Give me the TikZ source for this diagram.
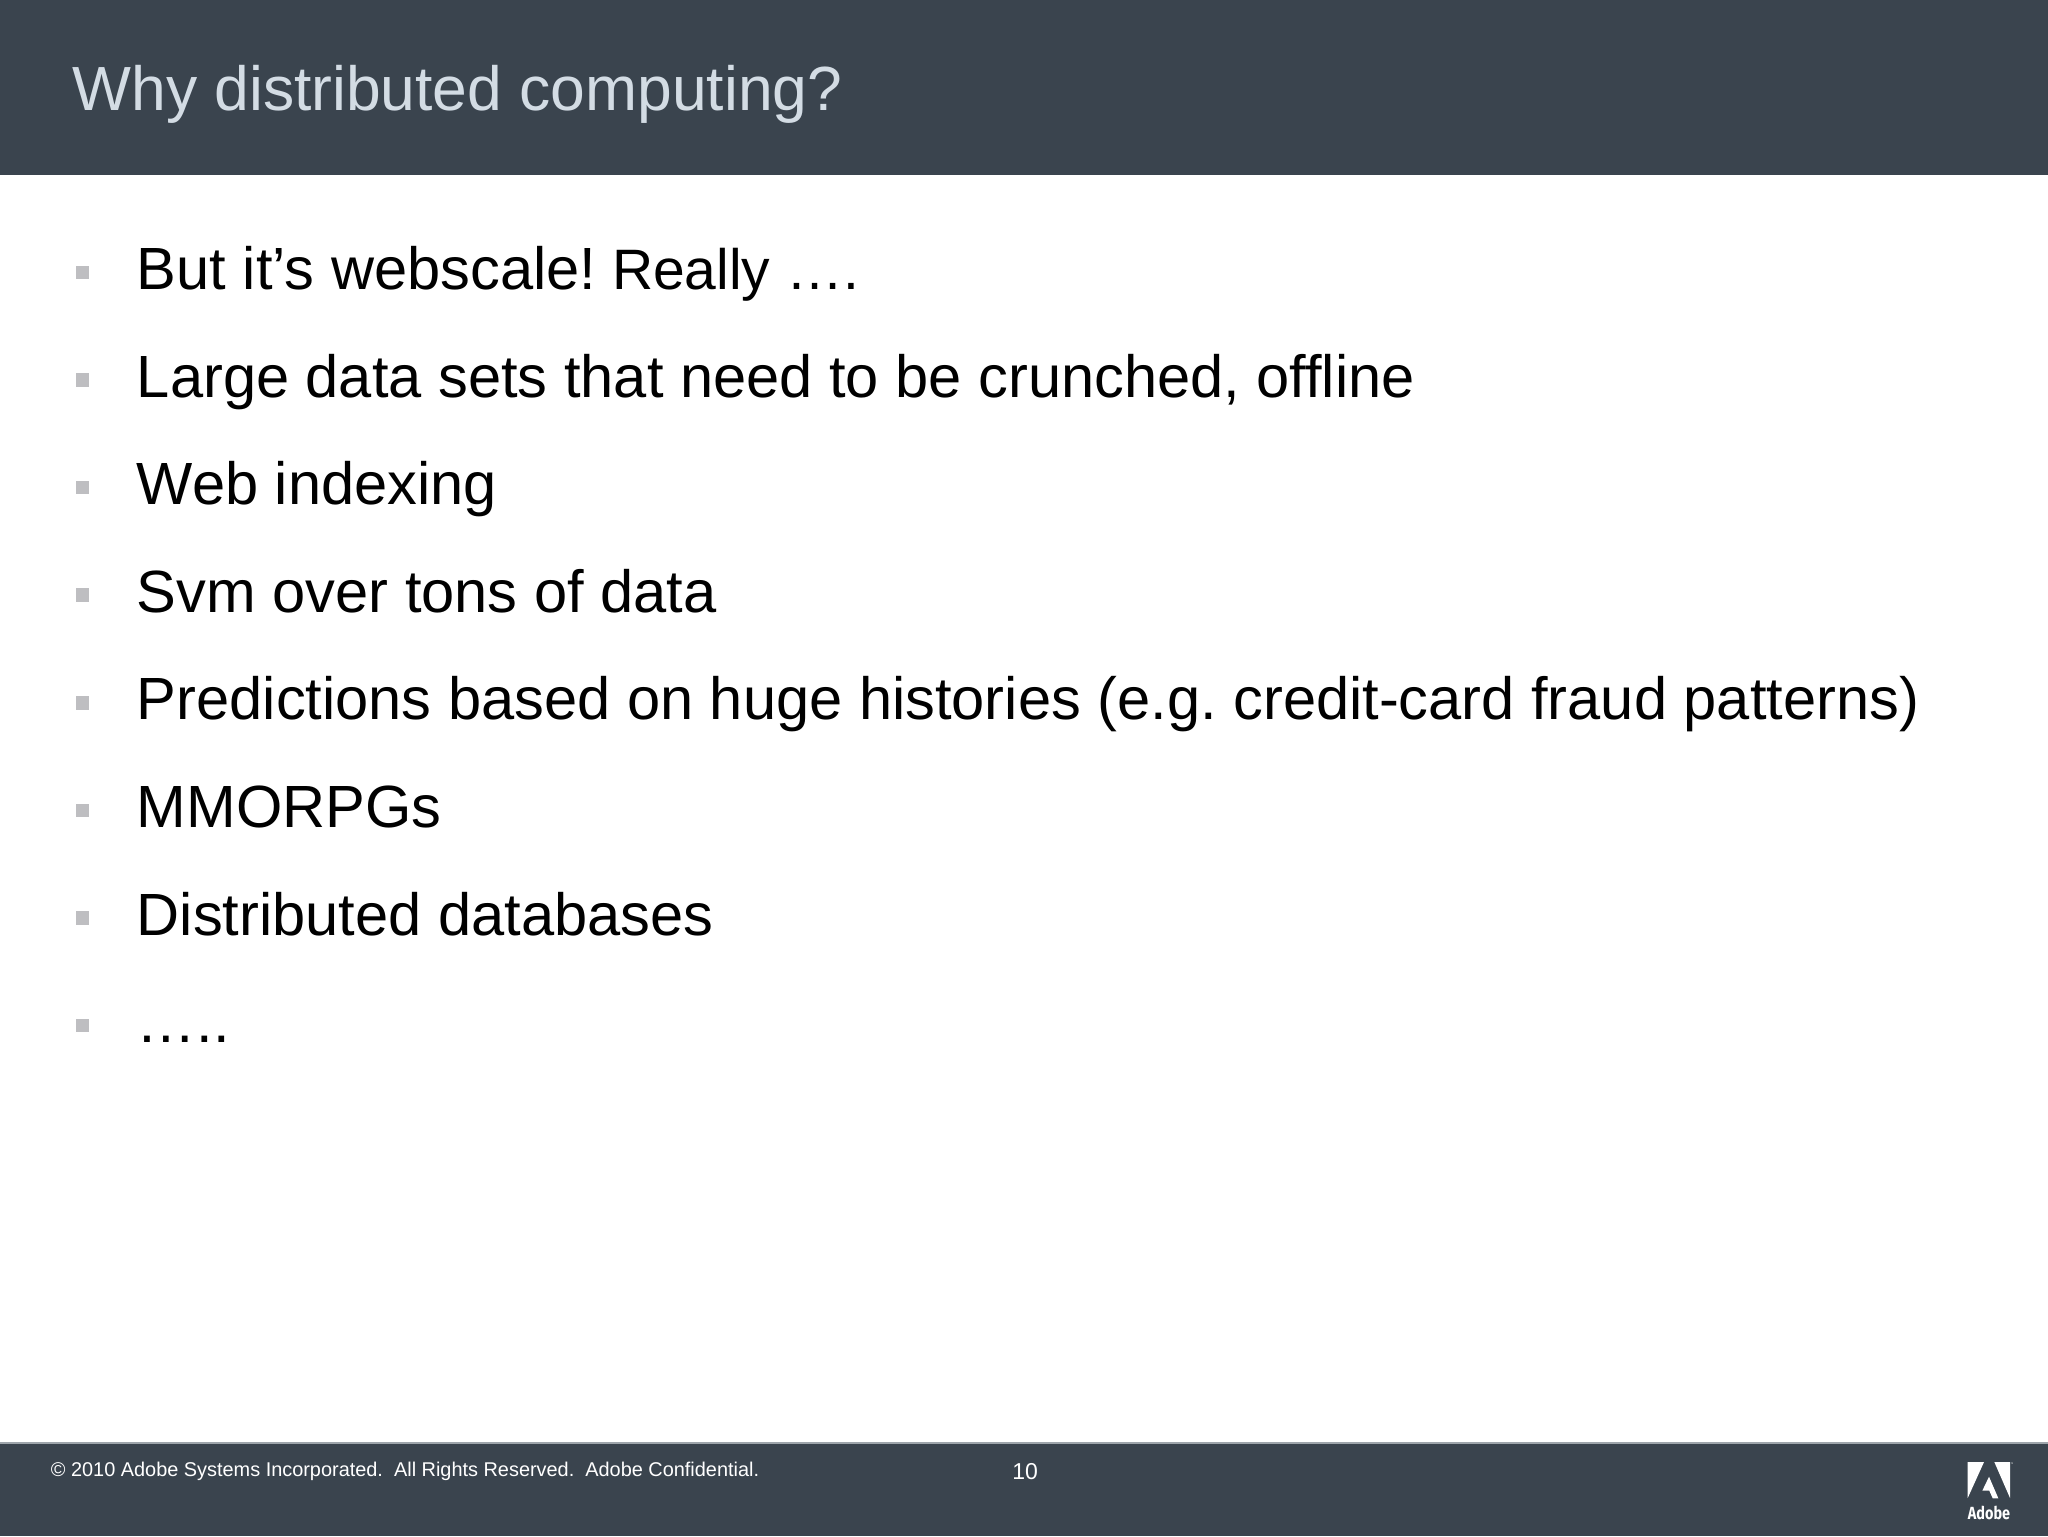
\documentclass[tikz,border=0pt]{standalone}
\usepackage{fontspec}
\setmainfont{Liberation Sans}
\newfontfamily\logofont{Fira Sans}
\frenchspacing
\definecolor{barcolor}{HTML}{3A444E}
\definecolor{barline}{HTML}{9EA5AB}
\definecolor{titlecolor}{HTML}{D3DCE4}
\definecolor{bulletcolor}{HTML}{BEBEC1}
\tikzset{
  titletext/.style={anchor=base west,inner sep=0pt,text=titlecolor,font=\fontsize{31.2pt}{36pt}\selectfont},
  itemtext/.style={anchor=base west,inner sep=0pt,text=black,font=\fontsize{29.8pt}{34pt}\selectfont},
  itembullet/.style={fill=bulletcolor,inner sep=0pt,minimum size=6.7pt},
  foottext/.style={anchor=base west,inner sep=0pt,text=white,font=\fontsize{9.95pt}{12pt}\selectfont},
}
\begin{document}
\begin{tikzpicture}[x=0.5pt,y=-0.5pt]
  \useasboundingbox (0,0) rectangle (2048,1536);
  % bars
  \fill[white] (0,0) rectangle (2048,1536);
  \fill[barcolor] (0,0) rectangle (2048,175);
  \fill[barcolor] (0,1443) rectangle (2048,1536);
  \draw[barline,line width=0.6pt] (0,1443) -- (2048,1443);
  % title
  \node[titletext] (title) at (72,110.5) {Why distributed computing?};
  % bullets
  \node[itembullet] (b1) at (82.5,272.5) {};
  \node[itembullet] (b2) at (82.5,380) {};
  \node[itembullet] (b3) at (82.5,487.5) {};
  \node[itembullet] (b4) at (82.5,595) {};
  \node[itembullet] (b5) at (82.5,703) {};
  \node[itembullet] (b6) at (82.5,810.5) {};
  \node[itembullet] (b7) at (82.5,918) {};
  \node[itembullet] (b8) at (82.5,1025.5) {};
  % items
  \node[itemtext] (t1) at (136.5,289) {But it’s webscale!{\fontsize{28.5pt}{30pt}\selectfont{} Really ….}};
  \node[itemtext] (t2) at (136.5,397) {Large data sets that need to be crunched, offline};
  \node[itemtext] (t3) at (136.5,504.5) {Web indexing};
  \node[itemtext] (t4) at (136.5,612) {Svm over tons of data};
  \node[itemtext] (t5) at (136.5,719.5) {Predictions based on huge histories (e.g. credit-card fraud patterns)};
  \node[itemtext] (t6) at (136.5,827) {MMORPGs};
  \node[itemtext] (t7) at (136.5,935) {Distributed databases};
  \node[itemtext] (t8) at (136.5,1042) {…..};
  % footer
  \node[foottext] (copy) at (50.5,1476.5) {© 2010 Adobe Systems Incorporated.\ \ All Rights Reserved.\ \ Adobe Confidential.};
  \node[foottext,font=\fontsize{11.5pt}{13pt}\selectfont] (page) at (1012,1479) {10};
  % logo
  \fill[white] (1967.7,1462) -- (1984,1462) -- (1967.7,1498) -- cycle;
  \fill[white] (1994.3,1462) -- (2010,1462) -- (2010,1498) -- cycle;
  \fill[white] (1989,1476.7) -- (1998.3,1498.3) -- (1992.7,1498.3) -- (1989.3,1490.7) -- (1982.3,1490.7) -- cycle;
  \fill[white] (2012,1463) circle (0.7);
  \node[anchor=base,inner sep=0pt,text=white,xscale=0.82,font=\logofont\bfseries\fontsize{8.8pt}{10pt}\selectfont] (logo) at (1989,1519) {Adobe};
\end{tikzpicture}
\end{document}
